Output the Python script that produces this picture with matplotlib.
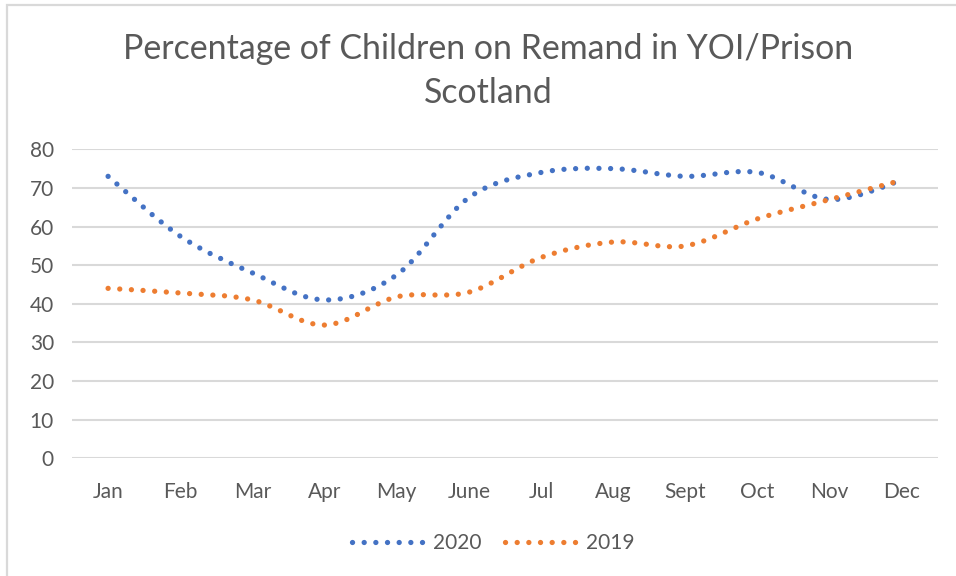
import matplotlib
matplotlib.use("Agg")
import matplotlib.pyplot as plt
import numpy as np
from matplotlib.path import Path
from matplotlib.patches import PathPatch, Rectangle
from matplotlib.lines import Line2D

months = ["Jan", "Feb", "Mar", "Apr", "May", "June", "Jul", "Aug", "Sept", "Oct", "Nov", "Dec"]
y2020 = [73, 57.5, 48, 41, 47.5, 67.5, 74, 75, 73, 74, 67, 72]
y2019 = [44, 42.8, 41, 34.5, 41.8, 43, 52, 56, 55, 62, 67, 72]
series_names = ["2020", "2019"]
colors = ["#4472C4", "#ED7D31"]

plt.rcParams["font.family"] = ["Lato", "DejaVu Sans"]
text_col = "#595959"
grid_col = "#D9D9D9"

fig = plt.figure(figsize=(9.56, 5.76), dpi=100)
ax = fig.add_axes([72 / 956, 1 - 458.3 / 576, (938 - 72) / 956, (458.3 - 149.3) / 576])

# frame around the chart area (only top/left visible in the reference)
fig.patches.append(Rectangle((7 / 956, -0.2), 1.2, 1.2 - 5 / 576, transform=fig.transFigure,
                             fill=False, edgecolor=grid_col, linewidth=1.6, clip_on=False))


def smooth_path(xs, ys):
    # Excel style smoothed line: cubic bezier segments through the points
    pts = np.column_stack([xs, ys]).astype(float)
    n = len(pts)
    verts = [pts[0]]
    codes = [Path.MOVETO]
    for i in range(n - 1):
        p0 = pts[i - 1] if i > 0 else pts[i]
        p1, p2 = pts[i], pts[i + 1]
        p3 = pts[i + 2] if i + 2 < n else pts[i + 1]
        verts += [p1 + (p2 - p0) / 6, p2 - (p3 - p1) / 6, p2]
        codes += [Path.CURVE4] * 3
    return Path(verts, codes)


dot_style = dict(linewidth=3.8, linestyle=(0, (0.01, 2.2)))
x = np.arange(len(months))
for vals, col in zip([y2020, y2019], colors):
    patch = PathPatch(smooth_path(x, vals), fill=False, edgecolor=col, capstyle="round", **dot_style)
    ax.add_patch(patch)

ax.set_xlim(-0.5, len(months) - 0.5)
ax.set_ylim(0, 80)
ax.set_yticks(range(0, 81, 10))
ax.set_xticks(x)
ax.set_xticklabels(months)
ax.yaxis.grid(True, color=grid_col, linewidth=1.5)
ax.set_axisbelow(True)
for s in ax.spines.values():
    s.set_visible(False)
ax.tick_params(axis="both", length=0, labelsize=15, labelcolor=text_col)
ax.tick_params(axis="y", pad=13)
ax.tick_params(axis="x", pad=17)

fig.text(488.5 / 956, 1 - 71 / 576, "Percentage of Children on Remand in YOI/Prison\nScotland",
         ha="center", va="center", fontsize=24.4, color=text_col, linespacing=1.47)

handles = [Line2D([], [], color=c, dash_capstyle="round", **dot_style) for c in colors]
fig.legend(handles, series_names, loc="center", bbox_to_anchor=(0.516, 1 - 543 / 576),
           ncol=2, frameon=False, fontsize=15, labelcolor=text_col,
           handlelength=3.4, handletextpad=0.5, columnspacing=1.1)

fig.savefig("out.png", dpi=100, facecolor="white")
